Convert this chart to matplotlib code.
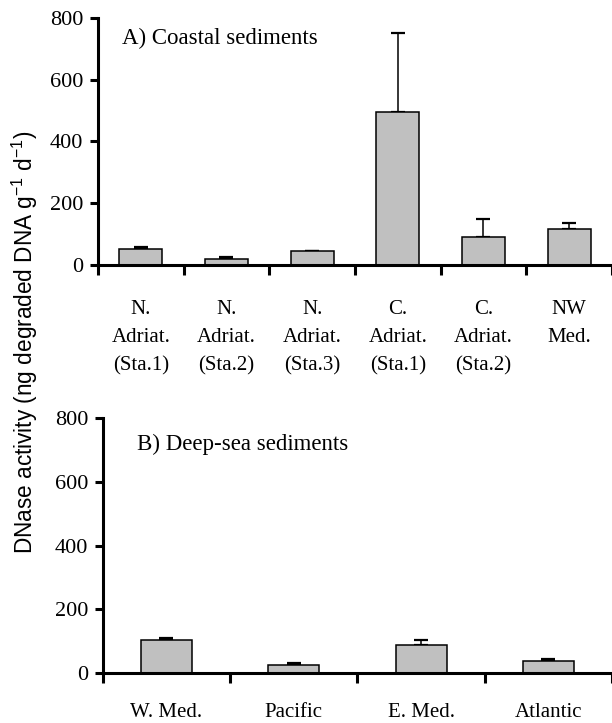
import numpy as np
import matplotlib
matplotlib.use('Agg')
import matplotlib.pyplot as plt

#serif text like the original figure, sans for the y label
plt.rcParams['font.family'] = 'Liberation Serif'
plt.rcParams['mathtext.fontset'] = 'custom'
plt.rcParams['mathtext.rm'] = 'Liberation Sans'
plt.rcParams['mathtext.it'] = 'Liberation Sans:italic'

#panel A data (coastal sediments)
coastal_sites = ['N.\nAdriat.\n(Sta.1)', 'N.\nAdriat.\n(Sta.2)', 'N.\nAdriat.\n(Sta.3)',
                 'C.\nAdriat.\n(Sta.1)', 'C.\nAdriat.\n(Sta.2)', 'NW\nMed.\n']
coastal_vals = [52, 19, 44, 497, 90, 117]
coastal_err = [5, 6, 0, 254, 58, 18]

#panel B data (deep-sea sediments)
deep_sites = ['W. Med.', 'Pacific', 'E. Med.', 'Atlantic']
deep_vals = [105, 25, 87, 38]
deep_err = [6, 7, 18, 5]

bar_color = '#c0c0c0'

fig = plt.figure(figsize=(6.12, 7.23), dpi=100)
ax1 = fig.add_axes([0.160, 0.6335, 0.840, 0.3417])
ax2 = fig.add_axes([0.168, 0.069, 0.832, 0.3527])


def draw_panel(ax, sites, vals, err, width, title, title_xy, pad):
    x = np.arange(len(sites))
    ax.bar(x, vals, width=width, color=bar_color, edgecolor='black', linewidth=1.1, zorder=2)
    ax.errorbar(x, vals, yerr=[np.zeros(len(err)), err], fmt='none', ecolor='black',
                elinewidth=1.1, capsize=5, capthick=1.6, zorder=1)
    ax.set_xlim(-0.5, len(sites) - 0.5)
    ax.set_ylim(0, 800)
    ax.set_yticks([0, 200, 400, 600, 800])
    #labels at bar centres, tick marks at category boundaries
    ax.set_xticks(x)
    ax.set_xticklabels(sites, fontsize=15, linespacing=1.65)
    ax.set_xticks(np.arange(len(sites) + 1) - 0.5, minor=True)
    ax.tick_params(axis='x', which='major', length=0, pad=pad)
    ax.tick_params(axis='x', which='minor', length=7, width=2.2, direction='out')
    ax.tick_params(axis='y', length=5.5, width=2.2, labelsize=16, pad=5)
    for side in ['top', 'right']:
        ax.spines[side].set_visible(False)
    for side in ['left', 'bottom']:
        ax.spines[side].set_linewidth(2.2)
    ax.text(title_xy[0], title_xy[1], title, transform=fig.transFigure, fontsize=16.5,
            ha='left', va='center')


draw_panel(ax1, coastal_sites, coastal_vals, coastal_err, 0.5,
           'A) Coastal sediments', (0.199, 1 - 38 / 723), 25)
draw_panel(ax2, deep_sites, deep_vals, deep_err, 0.4,
           'B) Deep-sea sediments', (0.224, 1 - 444 / 723), 21.5)

fig.text(0.040, 0.527, 'DNase activity (ng degraded DNA g$^{-1}$ d$^{-1}$)',
         rotation=90, ha='center', va='center', fontsize=16.3, family='Liberation Sans')

fig.savefig('out.png', dpi=100)
